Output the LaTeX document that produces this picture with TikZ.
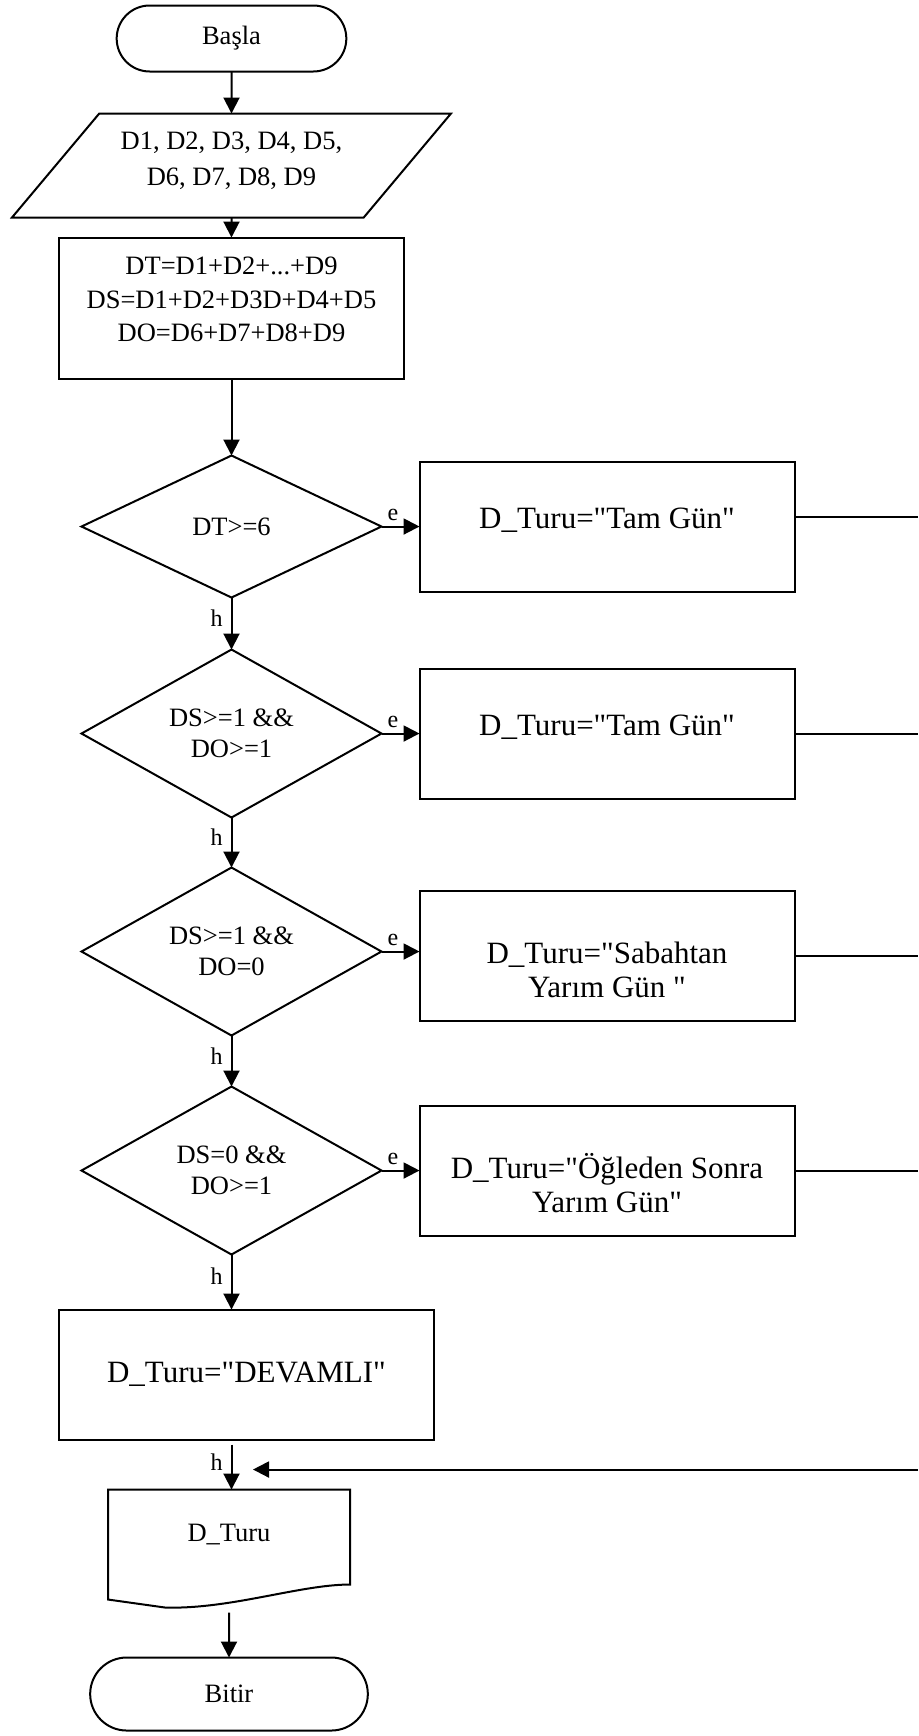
\documentclass[tikz,border=0pt]{standalone}
\usepackage{fontspec}
\setmainfont{Liberation Serif}[Ligatures=TeXOff]
\usetikzlibrary{arrows.meta,positioning,shapes.geometric,shapes.misc}

\begin{document}
\begin{tikzpicture}[
    node distance=24pt and 19pt,
    line width=1pt,
    every node/.append style={outer sep=0pt},
    terminal/.style={rounded rectangle, draw, font=\fontsize{13.25pt}{17.5pt}\selectfont},
    io/.style={trapezium, trapezium left angle=50, trapezium right angle=130, trapezium stretches body=true, draw, inner sep=0pt, minimum width=219.5pt, text height=36pt, text depth=16pt, align=center, font=\fontsize{13.25pt}{18pt}\selectfont},
    process/.style={rectangle, draw, inner ysep=0pt, minimum width=172.5pt, text height=52pt, text depth=18.5pt, align=center, font=\fontsize{13.25pt}{16.75pt}\selectfont},
    decision/.style={diamond, draw, aspect=2, inner sep=0pt, minimum width=150pt, minimum height=84pt, align=center, font=\fontsize{13.25pt}{15.5pt}\selectfont},
    result/.style={rectangle, draw, inner ysep=0pt, minimum width=187.5pt, text height=33.5pt, text depth=31.5pt, align=center, font=\fontsize{15.5pt}{17pt}\selectfont},
    tworow/.style={text height=53.5pt, text depth=11.5pt},
    doc/.style={inner sep=0pt, minimum width=121pt, minimum height=45pt, font=\fontsize{13.25pt}{17.5pt}\selectfont},
    arrow/.style={-{Triangle[length=8pt,width=8pt]}},
    lbl/.style={font=\fontsize{12pt}{13pt}\selectfont, inner sep=3pt}
]
    \useasboundingbox (0,0) rectangle (459pt,-868pt);
    \coordinate (edge) at (459pt,0);

    % main column
    \node[terminal, minimum width=121.5pt, minimum height=33pt] (start) at (115.75pt,-19.25pt) {Başla};
    \node[io, below=21pt of start] (input) {D1, D2, D3, D4, D5,\\D6, D7, D8, D9};
    \node[process, below=10pt of input] (calc) {DT=D1+D2+...+D9\\DS=D1+D2+D3D+D4+D5\\DO=D6+D7+D8+D9};
    \node[decision, minimum height=71pt, below=38.5pt of calc] (dec1) {DT>=6};
    \node[decision, below=26pt of dec1] (dec2) {DS>=1 \&\&\\DO>=1};
    \node[decision, below=25pt of dec2] (dec3) {DS>=1 \&\&\\DO=0};
    \node[decision, below=25.5pt of dec3] (dec4) {DS=0 \&\&\\DO>=1};
    \node[result, below=27.5pt of dec4, xshift=7.5pt, text height=36.5pt, text depth=28.5pt] (cont) {D\_Turu="DEVAMLI"};
    \node[doc, below=25pt of cont, xshift=-8.75pt] (out) {D\_Turu};
    \node[terminal, minimum width=145.5pt, minimum height=36.5pt, below=39pt of out] (stop) {Bitir};

    % yes branches
    \node[result, right=19pt of dec1] (r1) {D\_Turu="Tam Gün"};
    \node[result] (r2) at (dec2 -| r1) {D\_Turu="Tam Gün"};
    \node[result, tworow, yshift=-2pt] (r3) at (dec3 -| r1) {D\_Turu="Sabahtan\\Yarım Gün "};
    \node[result, tworow] (r4) at (dec4 -| r1) {D\_Turu="Öğleden Sonra\\Yarım Gün"};

    % document outline
    \draw (out.north west) -- (out.north east) -- ([yshift=-2.5pt]out.south east)
        .. controls +(-25pt,0pt) and +(32.5pt,-1pt) .. ([xshift=28.5pt,yshift=-14pt]out.south west)
        -- ([yshift=-10pt]out.south west) -- cycle;

    \draw[arrow] (start) -- (start |- input.north);
    \draw[arrow] (input) -- (input |- calc.north);
    \draw[arrow] (calc) -- (dec1);
    \draw[arrow] (dec1) -- node[lbl, left, pos=0.4, xshift=-1.5pt] {h} (dec2);
    \draw[arrow] (dec2) -- node[lbl, left, pos=0.4, xshift=-1.5pt] {h} (dec3);
    \draw[arrow] (dec3) -- node[lbl, left, pos=0.4, xshift=-1.5pt] {h} (dec4);
    \draw[arrow] (dec4.south) -- node[lbl, left, pos=0.4, xshift=-1.5pt] {h} (dec4.south |- cont.north);
    \draw[arrow] ([yshift=-2.5pt]cont.south -| dec4.south) -- node[lbl, left, pos=0.4, xshift=-1.5pt] {h} (out.north -| dec4.south);
    \draw[arrow] ([yshift=-16.5pt]out.south) -- (stop);

    \draw[arrow] (dec1.east) -- node[lbl, above, pos=0.3] {e} (dec1.east -| r1.west);
    \draw[arrow] (dec2.east) -- node[lbl, above, pos=0.3] {e} (dec2.east -| r2.west);
    \draw[arrow] (dec3.east) -- node[lbl, above, pos=0.3] {e} (dec3.east -| r3.west);
    \draw[arrow] (dec4.east) -- node[lbl, above, pos=0.3] {e} (dec4.east -| r4.west);

    % lines to the right edge
    \coordinate (x1) at ([yshift=5pt]r1.east -| edge);
    \coordinate (x2) at (r2.east -| edge);
    \coordinate (x3) at (r3.east -| edge);
    \coordinate (x4) at (r4.east -| edge);
    \draw ([yshift=5pt]r1.east) -- (x1);
    \draw (r2.east) -- (x2);
    \draw (r3.east) -- (x3);
    \draw (r4.east) -- (x4);

    \coordinate (join) at ([xshift=10.75pt,yshift=-15pt]cont.south -| dec4.south);
    \coordinate (back) at (join -| edge);
    \draw[arrow] (back) -- (join);
\end{tikzpicture}
\end{document}
